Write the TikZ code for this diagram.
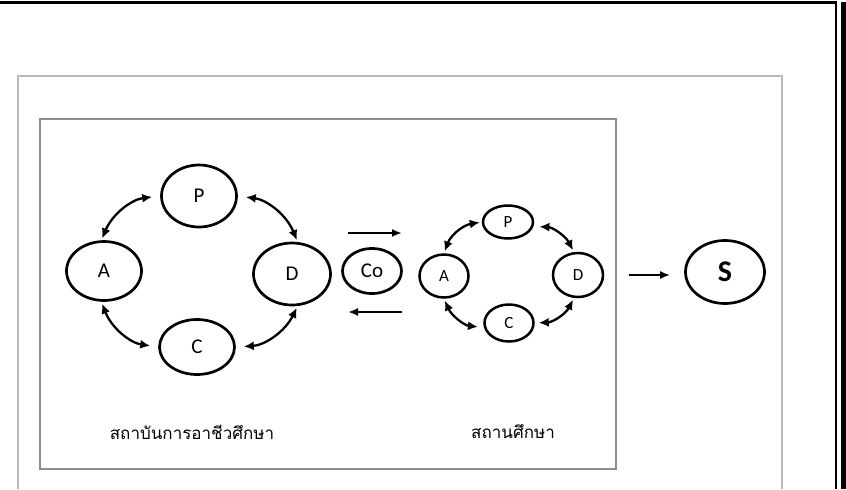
\documentclass[tikz,border=0pt]{standalone}
\usepackage{fontspec}
\setmainfont{Carlito}
\newfontfamily\thaifont[Script=Thai]{Loma}
\usetikzlibrary{positioning, arrows.meta, shapes.geometric}

\begin{document}
\begin{tikzpicture}[
            x=0.5pt, y=0.5pt,
            state/.style={ellipse, draw, line width=1.35pt, inner sep=0pt, minimum width=37.5pt, minimum height=29.5pt, font=\fontsize{10.5}{12}\selectfont},
            small/.style={ellipse, draw, line width=1.25pt, inner sep=0pt, minimum width=24.5pt, minimum height=18.5pt, font=\fontsize{8.5}{10}\selectfont},
            link/.style={{Latex[length=5pt,width=4.5pt]}-{Latex[length=5pt,width=4.5pt]}, line width=1.15pt, bend left=30, shorten <=1pt, shorten >=1pt},
            flow/.style={-{Latex[length=5pt,width=4pt]}, line width=1.1pt},
            thaitext/.style={font=\thaifont\fontsize{8.5}{11}\selectfont}
            ]
        \useasboundingbox (0,0) rectangle (846,489);

        % Cornici
        \draw[line width=1.3pt] (0,486.5) -- (837,486.5);
        \draw[line width=0.75pt] (836,487) -- (836,0);
        \draw[line width=2.8pt] (843.5,487) -- (843.5,0);
        \draw[gray!55, line width=0.7pt] (18,0) -- (18,413) -- (782,413) -- (782,0);
        \draw[gray!90, line width=0.7pt] (40,20) rectangle (616,370);

        % Ciclo grande
        \node[state, minimum height=31pt] (P1) at (199,293) {P};
        \node[state] (A1) at (104,218) {A};
        \node[state, minimum width=38.5pt, minimum height=31pt] (D1) at (292,215) {D};
        \node[state, minimum height=27.5pt] (C1) at (197,142) {C};

        % Ciclo piccolo
        \node[small, minimum width=25pt, minimum height=16.5pt] (P2) at (508,267) {P};
        \node[small, minimum height=21.5pt] (A2) at (444,213) {A};
        \node[small, minimum width=25pt, minimum height=22pt] (D2) at (578,214) {D};
        \node[small] (C2) at (509,166) {C};

        \node[state, minimum width=29.5pt, minimum height=22.5pt] (Co) at (372,218) {Co};
        \node[state, minimum width=39.5pt, minimum height=31.5pt, font=\fontsize{15}{18}\selectfont\bfseries] (S) at (725,217) {S};

        % Frecce del ciclo
        \draw[link, shorten >=4pt] (A1.95) to (P1.west);
        \draw[link, shorten <=4pt] (P1.east) to (D1.80);
        \draw[link, shorten >=4pt] (D1.-80) to (C1.east);
        \draw[link, shorten <=4pt] (C1.west) to (A1.-95);

        \draw[link] (A2.north) to (P2.west);
        \draw[link, shorten <=3pt] (P2.-10) to (D2.100);
        \draw[link, shorten >=2pt] (D2.-100) to (C2.east);
        \draw[link, shorten <=3pt] (C2.190) to (A2.south);

        % Frecce di scambio
        \coordinate (inL) at ([xshift=-12pt, yshift=19pt]Co.center);
        \coordinate (inR) at ([xshift=15pt, yshift=19pt]Co.center);
        \coordinate (outR) at ([xshift=15pt, yshift=-20.5pt]Co.center);
        \coordinate (outL) at ([xshift=-12pt, yshift=-20.5pt]Co.center);
        \draw[flow] (inL) -- (inR);
        \draw[flow] (outR) -- (outL);
        \draw[flow, shorten <=12.5pt, shorten >=7pt] (D2.east) -- (D2.east -| S.west);

        % Etichette
        \node[thaitext] (inst) at (192,57) {สถาบันการอาชีวศึกษา};
        \node[thaitext] (school) at (513,57) {สถานศึกษา};
        \end{tikzpicture}
\end{document}
